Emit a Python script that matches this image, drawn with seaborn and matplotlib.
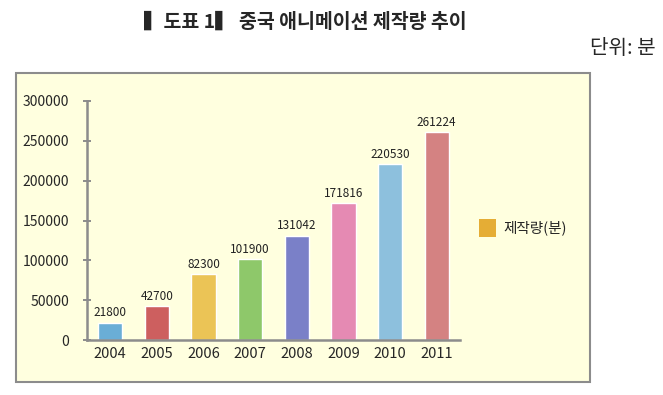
import pandas as pd
import matplotlib.pyplot as plt
import seaborn as sns
from matplotlib.patches import Rectangle

plt.switch_backend('Agg')

# Chart data
years = ['2004', '2005', '2006', '2007', '2008', '2009', '2010', '2011']
minutes = [21800, 42700, 82300, 101900, 131042, 171816, 220530, 261224]
bar_colors = ['#6aaed6', '#cd5f5f', '#ebc456', '#8ec86a', '#7a80c8', '#e58ab3', '#8dc0dd', '#d48282']
y_ticks = [0, 50000, 100000, 150000, 200000, 250000, 300000]
legend_label = '제작량(분)'
legend_color = '#e5ad35'


def make_chart():
    sns.set_style('white')
    plt.rcParams['font.family'] = ['Noto Sans CJK KR', 'DejaVu Sans']

    df = pd.DataFrame({'year': years, 'minutes': minutes})

    fig = plt.figure(figsize=(6.63, 3.95), dpi=100)
    fig.patch.set_facecolor('white')

    # light yellow frame around the chart (behind the axes)
    box = Rectangle((16 / 663, 1 - 382 / 395), (590 - 16) / 663, (382 - 73) / 395,
                    transform=fig.transFigure, facecolor='#ffffdf', edgecolor='#8c8c8c',
                    linewidth=1.5, zorder=-5)
    fig.patches.append(box)

    ax = fig.add_axes([87 / 663, 55 / 395, (460 - 87) / 663, (340 - 101) / 395])
    ax.set_facecolor('none')

    sns.barplot(data=df, x='year', y='minutes', hue='year', palette=bar_colors,
                legend=False, width=0.52, ax=ax, saturation=1)

    for i, v in enumerate(minutes):
        ax.text(i, v + 4000, str(v), ha='center', va='bottom', fontsize=8.5, color='#222222')

    ax.set_ylim(0, 300000)
    ax.set_xlim(-0.5, 7.5)
    ax.set_yticks(y_ticks)
    ax.set_yticklabels([str(t) for t in y_ticks], fontsize=10)
    ax.tick_params(axis='x', labelsize=10.5, length=0, pad=5)
    ax.tick_params(axis='y', left=True, direction='inout', length=6, width=1.4,
                   color='#8c8c8c', pad=10)
    ax.set_xlabel('')
    ax.set_ylabel('')
    for side in ['top', 'right']:
        ax.spines[side].set_visible(False)
    for side in ['left', 'bottom']:
        ax.spines[side].set_color('#8c8c8c')
        ax.spines[side].set_linewidth(1.8)

    # legend
    fig.patches.append(Rectangle((479 / 663, 1 - 237 / 395), 17 / 663, 18 / 395,
                                 transform=fig.transFigure, facecolor=legend_color,
                                 edgecolor='none', zorder=3))
    fig.text(503 / 663, 1 - 228 / 395, legend_label, fontsize=10.5, va='center', ha='left')

    fig.text(305 / 663, 1 - 22 / 395, '▍도표 1▍ 중국 애니메이션 제작량 추이',
             fontsize=14, fontweight='bold', ha='center', va='center')
    fig.text(656 / 663, 1 - 48 / 395, '단위: 분', fontsize=14.5, ha='right', va='center')

    fig.savefig('out.png', dpi=100)
    plt.close(fig)


if __name__ == "__main__":
    make_chart()
